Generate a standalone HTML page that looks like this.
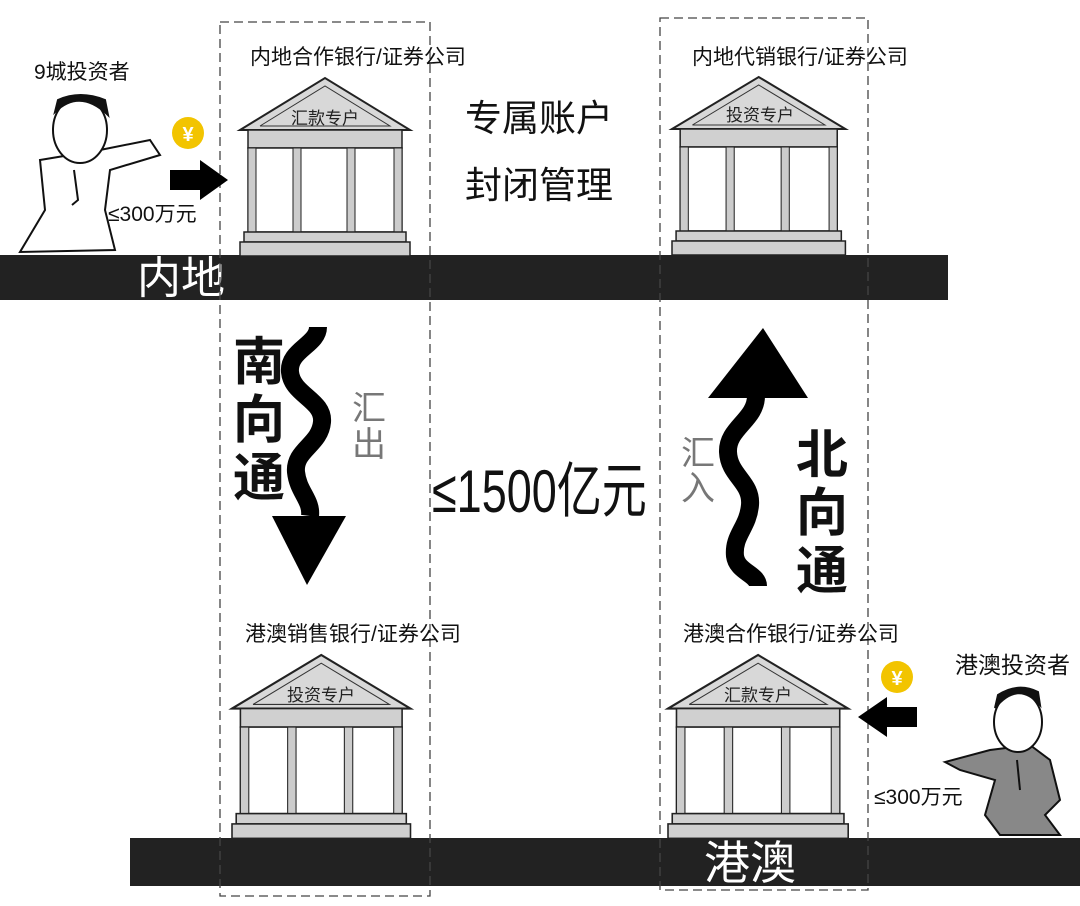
<!DOCTYPE html>
<html><head><meta charset="utf-8"><style>
html,body{margin:0;padding:0;background:#fff;}
body{width:1080px;height:901px;overflow:hidden;}
text{font-family:"Liberation Sans","Noto Sans CJK SC",sans-serif;}
</style></head><body>
<svg width="1080" height="901" viewBox="0 0 1080 901" xmlns="http://www.w3.org/2000/svg">
<defs>
<g id="bld">
  <polygon points="0,52 85,0 170,52" fill="#d8d8d8" stroke="#222" stroke-width="2"/>
  <polyline points="20,48 85,8 150,48 20,48" fill="none" stroke="#333" stroke-width="1"/>
  <rect x="8" y="52" width="154" height="18" fill="#d0d0d0" stroke="#222" stroke-width="1.5"/>
  <rect x="8" y="70" width="154" height="84" fill="#fff" stroke="#222" stroke-width="1.5"/>
  <rect x="8" y="70" width="8" height="84" fill="#ccc" stroke="#222" stroke-width="1"/>
  <rect x="53" y="70" width="8" height="84" fill="#ccc" stroke="#222" stroke-width="1"/>
  <rect x="107" y="70" width="8" height="84" fill="#ccc" stroke="#222" stroke-width="1"/>
  <rect x="154" y="70" width="8" height="84" fill="#ccc" stroke="#222" stroke-width="1"/>
  <rect x="4" y="154" width="162" height="10" fill="#d0d0d0" stroke="#222" stroke-width="1.5"/>
  <rect x="0" y="164" width="170" height="14" fill="#d0d0d0" stroke="#222" stroke-width="1.5"/>
</g>
</defs>

<rect x="0" y="255" width="948" height="45" fill="#222"/>
<rect x="130" y="838" width="950" height="48" fill="#222"/>
<text x="137" y="293" font-size="44" fill="#fff">内地</text>
<text x="704" y="879" font-size="46" fill="#fff">港澳</text>

<rect x="220" y="22" width="210" height="874" fill="none" stroke="#444" stroke-width="1.3" stroke-dasharray="9,5"/>
<rect x="660" y="18" width="208" height="872" fill="none" stroke="#444" stroke-width="1.3" stroke-dasharray="9,5"/>

<use href="#bld" transform="translate(240,78)"/>
<text x="325" y="124" font-size="17" text-anchor="middle" fill="#222">汇款专户</text>
<use href="#bld" transform="translate(672,77) scale(1.02,1)"/>
<text x="760" y="121" font-size="17" text-anchor="middle" fill="#222">投资专户</text>
<use href="#bld" transform="translate(232,655) scale(1.05,1.03)"/>
<text x="321" y="701" font-size="17" text-anchor="middle" fill="#222">投资专户</text>
<use href="#bld" transform="translate(668,655) scale(1.06,1.03)"/>
<text x="758" y="701" font-size="17" text-anchor="middle" fill="#222">汇款专户</text>

<text x="34" y="79" font-size="21" fill="#111">9城投资者</text>
<text x="250" y="64" font-size="21" fill="#111">内地合作银行/证券公司</text>
<text x="692" y="64" font-size="21" fill="#111">内地代销银行/证券公司</text>
<text x="245" y="641" font-size="21" fill="#111">港澳销售银行/证券公司</text>
<text x="683" y="641" font-size="21" fill="#111">港澳合作银行/证券公司</text>
<text x="955" y="673" font-size="23" fill="#111">港澳投资者</text>
<text x="465" y="131" font-size="37" fill="#111">专属账户</text>
<text x="465" y="198" font-size="37" fill="#111">封闭管理</text>
<text x="108" y="221" font-size="21" fill="#111">≤300万元</text>
<text x="874" y="804" font-size="21" fill="#111">≤300万元</text>

<circle cx="188" cy="133" r="16" fill="#f2c400"/>
<text x="188" y="141" font-size="20" fill="#fff" text-anchor="middle" font-weight="bold">¥</text>
<circle cx="897" cy="677" r="16" fill="#f2c400"/>
<text x="897" y="685" font-size="20" fill="#fff" text-anchor="middle" font-weight="bold">¥</text>

<polygon points="170,170 200,170 200,160 228,180 200,200 200,190 170,190" fill="#000"/>
<polygon points="917,707 887,707 887,697 858,717 887,737 887,727 917,727" fill="#000"/>

<g stroke="#111" stroke-width="2" fill="#fff">
  <path d="M40,160 L100,150 L150,140 L160,155 L110,170 L105,210 L115,250 L20,252 L45,210 Z"/>
  <ellipse cx="80" cy="130" rx="27" ry="33"/>
  <path d="M55,112 Q80,88 108,115 L105,100 Q80,90 58,100 Z" fill="#111"/>
  <path d="M74,170 L78,200 L72,205" fill="none"/>
</g>
<g stroke="#111" stroke-width="2">
  <path d="M990,750 L1030,745 L1050,760 L1060,800 L1045,815 L1060,835 L1000,835 L985,815 L995,780 L960,770 L945,762 Z" fill="#888"/>
  <ellipse cx="1018" cy="722" rx="24" ry="30" fill="#fff"/>
  <path d="M995,708 Q1018,680 1040,705 L1038,692 Q1018,682 998,695 Z" fill="#111"/>
  <path d="M1017,760 L1020,790" fill="none"/>
</g>

<path d="M318,327 C318,345 288,350 290,372 C292,395 324,400 322,422 C320,445 294,450 296,472 C298,492 312,500 310,516" fill="none" stroke="#000" stroke-width="18"/>
<polygon points="272,516 346,516 307,585" fill="#000"/>
<path d="M756,396 C756,420 727,428 728,452 C729,476 752,482 750,505 C748,528 733,535 735,556 C737,572 758,574 758,586" fill="none" stroke="#000" stroke-width="18"/>
<polygon points="708,398 808,398 763,328" fill="#000"/>

<g font-size="52" font-weight="bold" fill="#111">
<text x="233" y="380">南</text><text x="233" y="438">向</text><text x="233" y="496">通</text>
<text x="796" y="473">北</text><text x="796" y="531">向</text><text x="796" y="589">通</text>
</g>
<g font-size="34" fill="#777">
<text x="352" y="420">汇</text><text x="352" y="456">出</text>
<text x="681" y="465">汇</text><text x="681" y="500">入</text>
</g>
<text x="432" y="512" font-size="60" fill="#111" transform="translate(432,0) scale(0.75,1) translate(-432,0)">≤1500亿元</text>
</svg>
</body></html>
